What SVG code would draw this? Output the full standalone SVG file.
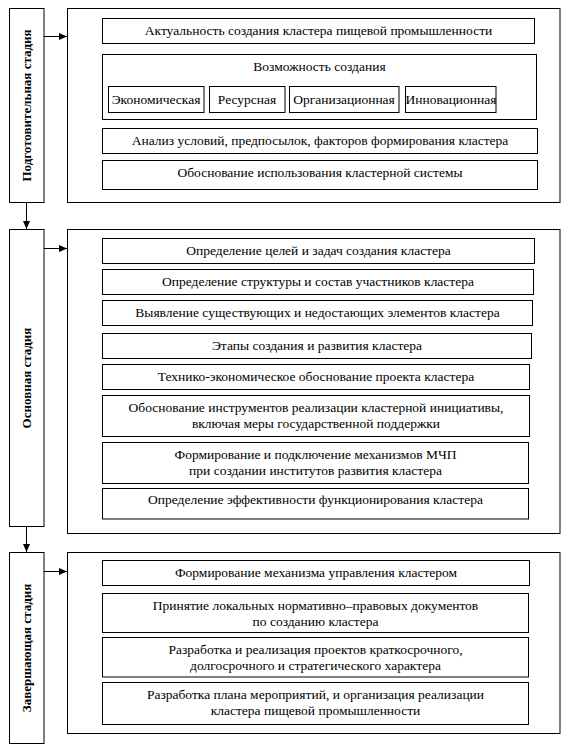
<svg xmlns="http://www.w3.org/2000/svg" width="568" height="746" viewBox="0 0 568 746">
<defs>
<marker id="ah" viewBox="0 0 8 8" refX="8" refY="4" markerWidth="8" markerHeight="8" markerUnits="userSpaceOnUse" orient="auto">
<path d="M0,0.5 L8,4 L0,7.5 Z" fill="#000"/>
</marker>
<style>
rect{fill:#fff;stroke:#000;stroke-width:1}
text{font-size:13.5px;fill:#000;text-anchor:middle}
.st{font-weight:bold;font-size:13px}
.c line{stroke:#000;stroke-width:1;marker-end:url(#ah)}
</style>
</defs>
<rect width="568" height="746" style="stroke:none;fill:#fff"/>
<g font-family="'Liberation Serif', 'Times New Roman', 'DejaVu Serif', serif">
<g id="stage1"><rect x="9.5" y="8.5" width="34.5" height="194"/><text class="st" transform="translate(31,105.5) rotate(-90)">Подготовительная стадия</text></g>
<g id="stage2"><rect x="9.5" y="229.5" width="34.5" height="297"/><text class="st" transform="translate(31,378) rotate(-90)">Основная стадия</text></g>
<g id="stage3"><rect x="9.5" y="552.5" width="34.5" height="191"/><text class="st" transform="translate(31,648) rotate(-90)">Завершающая стадия</text></g>
<g id="group1"><rect x="67.5" y="8.5" width="492.5" height="194"/></g>
<g id="group2"><rect x="67.5" y="229.5" width="492.5" height="304"/></g>
<g id="group3"><rect x="67.5" y="552.5" width="492.5" height="181"/></g>
<g id="n1"><rect x="102.5" y="18.5" width="432" height="25"/><text x="318.5" y="35">Актуальность создания кластера пищевой промышленности</text></g>
<g id="n2"><rect x="102.5" y="54.5" width="434" height="65"/><text x="319.5" y="71">Возможность создания</text></g>
<g id="n2a"><rect x="108.5" y="86.5" width="95.5" height="26"/><text x="156" y="103.5">Экономическая</text></g>
<g id="n2b"><rect x="209.5" y="86.5" width="75.5" height="26"/><text x="247" y="103.5">Ресурсная</text></g>
<g id="n2c"><rect x="289.5" y="86.5" width="109.5" height="26"/><text x="344" y="103.5">Организационная</text></g>
<g id="n2d"><rect x="405.5" y="86.5" width="90.5" height="26"/><text x="451" y="103.5">Инновационная</text></g>
<g id="n3"><rect x="102.5" y="128.5" width="435" height="25"/><text x="320" y="145">Анализ условий, предпосылок, факторов формирования кластера</text></g>
<g id="n4"><rect x="102.5" y="160.5" width="435" height="29"/><text x="320" y="177">Обоснование использования кластерной системы</text></g>
<g id="m1"><rect x="102.5" y="238.5" width="432" height="25"/><text x="318.5" y="255">Определение целей и задач создания кластера</text></g>
<g id="m2"><rect x="102.5" y="269.5" width="431" height="25"/><text x="318" y="286">Определение структуры и состав участников кластера</text></g>
<g id="m3"><rect x="102.5" y="300.5" width="430" height="25"/><text x="317.5" y="317">Выявление существующих и недостающих элементов кластера</text></g>
<g id="m4"><rect x="102.5" y="333.5" width="429" height="25"/><text x="317" y="350">Этапы создания и развития кластера</text></g>
<g id="m5"><rect x="102.5" y="364.5" width="427" height="25"/><text x="316" y="381">Технико-экономическое обоснование проекта кластера</text></g>
<g id="m6"><rect x="102.5" y="395.5" width="427" height="41"/><text x="316" y="412">Обоснование инструментов реализации кластерной инициативы,</text><text x="316" y="428">включая меры государственной поддержки</text></g>
<g id="m7"><rect x="102.5" y="442.5" width="426" height="41"/><text x="315.5" y="459">Формирование и подключение механизмов МЧП</text><text x="315.5" y="475">при создании институтов развития кластера</text></g>
<g id="m8"><rect x="102.5" y="488.5" width="426" height="30.5"/><text x="315.5" y="504">Определение эффективности функционирования кластера</text></g>
<g id="z1"><rect x="102.5" y="560.5" width="427" height="25"/><text x="316" y="577">Формирование механизма управления кластером</text></g>
<g id="z2"><rect x="102.5" y="593.5" width="426" height="39"/><text x="315.5" y="610">Принятие локальных нормативно–правовых документов</text><text x="315.5" y="626">по созданию кластера</text></g>
<g id="z3"><rect x="102.5" y="637.5" width="426" height="39.5"/><text x="315.5" y="654">Разработка и реализация проектов краткосрочного,</text><text x="315.5" y="670">долгосрочного и стратегического характера</text></g>
<g id="z4"><rect x="102.5" y="682.5" width="426" height="42"/><text x="315.5" y="699">Разработка плана мероприятий, и организация реализации</text><text x="315.5" y="715">кластера пищевой промышленности</text></g>
</g>
<g id="connectors" class="c">
<line x1="44" y1="36.5" x2="67" y2="36.5"/>
<line x1="44" y1="248.5" x2="67" y2="248.5"/>
<line x1="44" y1="571.5" x2="67" y2="571.5"/>
<line x1="26.5" y1="202.5" x2="26.5" y2="229"/>
<line x1="26.5" y1="526.5" x2="26.5" y2="552"/>
</g>
</svg>
